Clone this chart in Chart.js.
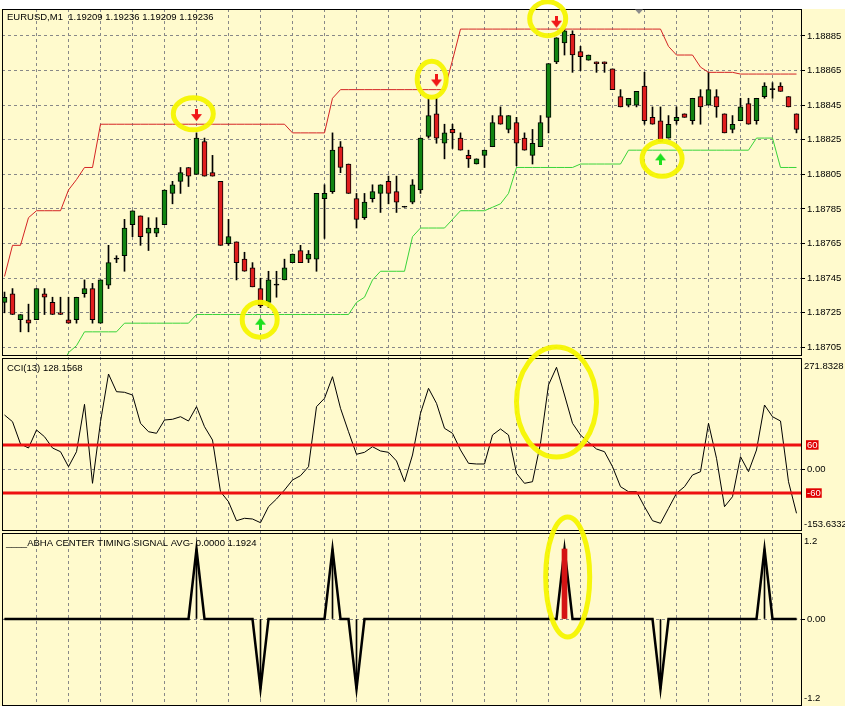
<!DOCTYPE html>
<html>
<head>
<meta charset="utf-8">
<script src="https://cdn.jsdelivr.net/npm/chart.js@4/dist/chart.umd.min.js"></script>
<style>
  html, body { margin: 0; padding: 0; background: #fff; }
  #chart { display: block; }
</style>
</head>
<body>
<canvas id="chart" width="845" height="706"></canvas>
<script>
// EURUSD M1 candles, 100 bars (oldest first)
const openPrices = [
  1.18731, 1.18736, 1.18721, 1.18721, 1.18721, 1.18736, 1.18731, 1.18725, 1.18721, 1.18721,
  1.18736, 1.18739, 1.18719, 1.18741, 1.18756, 1.18758, 1.18776, 1.18781, 1.18771, 1.18771,
  1.18776, 1.18794, 1.18801, 1.18809, 1.18805, 1.18824, 1.18806, 1.18801, 1.18765, 1.18766,
  1.18756, 1.18751, 1.18739, 1.18731, 1.18741, 1.18744, 1.18754, 1.18761, 1.18756, 1.18756,
  1.18791, 1.18795, 1.18821, 1.18811, 1.18791, 1.18780, 1.18791, 1.18794, 1.18801, 1.18795,
  1.18786, 1.18789, 1.18796, 1.18827, 1.18840, 1.18823, 1.18831, 1.18826, 1.18816, 1.18811,
  1.18816, 1.18821, 1.18839, 1.18831, 1.18835, 1.18826, 1.18816, 1.18821, 1.18838, 1.18870,
  1.18881, 1.18886, 1.18876, 1.18871, 1.18870, 1.18870, 1.18866, 1.18850, 1.18845, 1.18845,
  1.18856, 1.18838, 1.18836, 1.18826, 1.18836, 1.18840, 1.18836, 1.18850, 1.18845, 1.18850,
  1.18840, 1.18831, 1.18836, 1.18846, 1.18836, 1.18850, 1.18854, 1.18856, 1.18850, 1.18840
];
const highPrices = [
  1.18737, 1.18739, 1.18724, 1.18730, 1.18739, 1.18739, 1.18734, 1.18734, 1.18734, 1.18734,
  1.18744, 1.18742, 1.18744, 1.18764, 1.18758, 1.18779, 1.18784, 1.18781, 1.18780, 1.18780,
  1.18796, 1.18801, 1.18809, 1.18809, 1.18829, 1.18826, 1.18816, 1.18801, 1.18779, 1.18766,
  1.18760, 1.18754, 1.18745, 1.18749, 1.18749, 1.18756, 1.18759, 1.18764, 1.18761, 1.18794,
  1.18799, 1.18829, 1.18824, 1.18811, 1.18794, 1.18794, 1.18799, 1.18799, 1.18804, 1.18804,
  1.18786, 1.18802, 1.18826, 1.18849, 1.18849, 1.18834, 1.18834, 1.18829, 1.18819, 1.18814,
  1.18819, 1.18839, 1.18844, 1.18839, 1.18838, 1.18829, 1.18831, 1.18839, 1.18869, 1.18884,
  1.18889, 1.18888, 1.18879, 1.18874, 1.18870, 1.18870, 1.18866, 1.18854, 1.18849, 1.18853,
  1.18864, 1.18844, 1.18844, 1.18839, 1.18844, 1.18840, 1.18849, 1.18854, 1.18864, 1.18854,
  1.18840, 1.18839, 1.18849, 1.18849, 1.18849, 1.18858, 1.18858, 1.18858, 1.18850, 1.18840
];
const lowPrices = [
  1.18725, 1.18724, 1.18714, 1.18714, 1.18721, 1.18724, 1.18724, 1.18724, 1.18719, 1.18719,
  1.18734, 1.18719, 1.18719, 1.18739, 1.18754, 1.18749, 1.18769, 1.18764, 1.18761, 1.18769,
  1.18776, 1.18788, 1.18794, 1.18798, 1.18805, 1.18804, 1.18804, 1.18764, 1.18764, 1.18744,
  1.18749, 1.18740, 1.18728, 1.18728, 1.18734, 1.18744, 1.18754, 1.18754, 1.18754, 1.18749,
  1.18768, 1.18794, 1.18806, 1.18794, 1.18774, 1.18779, 1.18789, 1.18783, 1.18788, 1.18783,
  1.18786, 1.18788, 1.18794, 1.18826, 1.18823, 1.18814, 1.18820, 1.18819, 1.18809, 1.18811,
  1.18809, 1.18821, 1.18834, 1.18829, 1.18810, 1.18819, 1.18811, 1.18821, 1.18829, 1.18869,
  1.18874, 1.18864, 1.18865, 1.18871, 1.18864, 1.18864, 1.18854, 1.18844, 1.18844, 1.18844,
  1.18834, 1.18834, 1.18824, 1.18826, 1.18834, 1.18838, 1.18834, 1.18834, 1.18845, 1.18838,
  1.18829, 1.18829, 1.18836, 1.18834, 1.18834, 1.18849, 1.18849, 1.18853, 1.18844, 1.18829
];
const closePrices = [
  1.18734, 1.18724, 1.18724, 1.18719, 1.18739, 1.18734, 1.18724, 1.18724, 1.18719, 1.18734,
  1.18739, 1.18721, 1.18744, 1.18754, 1.18756, 1.18774, 1.18784, 1.18769, 1.18774, 1.18774,
  1.18796, 1.18799, 1.18806, 1.18804, 1.18826, 1.18804, 1.18804, 1.18764, 1.18769, 1.18754,
  1.18749, 1.18740, 1.18729, 1.18744, 1.18741, 1.18751, 1.18759, 1.18754, 1.18759, 1.18794,
  1.18794, 1.18819, 1.18809, 1.18794, 1.18779, 1.18789, 1.18795, 1.18799, 1.18794, 1.18789,
  1.18786, 1.18799, 1.18826, 1.18839, 1.18826, 1.18829, 1.18829, 1.18819, 1.18814, 1.18814,
  1.18819, 1.18835, 1.18834, 1.18839, 1.18823, 1.18819, 1.18823, 1.18835, 1.18869, 1.18884,
  1.18888, 1.18874, 1.18873, 1.18874, 1.18869, 1.18869, 1.18854, 1.18844, 1.18849, 1.18853,
  1.18836, 1.18834, 1.18824, 1.18834, 1.18838, 1.18838, 1.18849, 1.18844, 1.18854, 1.18844,
  1.18829, 1.18834, 1.18844, 1.18834, 1.18849, 1.18856, 1.18854, 1.18853, 1.18844, 1.18831
];
// channel lines
const upperBand = [
  1.18746, 1.18764, 1.18764, 1.18780, 1.18784, 1.18784, 1.18784, 1.18784, 1.18796, 1.18802,
  1.18809, 1.18809, 1.18834, 1.18834, 1.18834, 1.18834, 1.18834, 1.18834, 1.18834, 1.18834,
  1.18834, 1.18834, 1.18834, 1.18834, 1.18834, 1.18834, 1.18834, 1.18834, 1.18834, 1.18834,
  1.18834, 1.18834, 1.18834, 1.18834, 1.18834, 1.18834, 1.18829, 1.18829, 1.18829, 1.18829,
  1.18829, 1.18849, 1.18854, 1.18854, 1.18854, 1.18854, 1.18854, 1.18854, 1.18854, 1.18854,
  1.18854, 1.18854, 1.18854, 1.18854, 1.18854, 1.18854, 1.18871, 1.18889, 1.18889, 1.18889,
  1.18889, 1.18889, 1.18889, 1.18889, 1.18889, 1.18889, 1.18889, 1.18889, 1.18889, 1.18889,
  1.18889, 1.18889, 1.18889, 1.18889, 1.18889, 1.18889, 1.18889, 1.18889, 1.18889, 1.18889,
  1.18889, 1.18889, 1.18889, 1.18879, 1.18874, 1.18874, 1.18874, 1.18867, 1.18864, 1.18864,
  1.18864, 1.18864, 1.18863, 1.18863, 1.18863, 1.18863, 1.18863, 1.18863, 1.18863, 1.18863
];
const lowerBand = [
  null, null, null, null, null, null, null, 1.18691, 1.18702, 1.18706,
  1.18714, 1.18714, 1.18714, 1.18714, 1.18714, 1.18719, 1.18719, 1.18719, 1.18719, 1.18719,
  1.18719, 1.18719, 1.18719, 1.18719, 1.18724, 1.18724, 1.18724, 1.18724, 1.18724, 1.18724,
  1.18724, 1.18724, 1.18724, 1.18724, 1.18724, 1.18724, 1.18724, 1.18724, 1.18724, 1.18724,
  1.18724, 1.18724, 1.18724, 1.18724, 1.18731, 1.18734, 1.18744, 1.18749, 1.18749, 1.18749,
  1.18749, 1.18769, 1.18774, 1.18774, 1.18774, 1.18774, 1.18779, 1.18784, 1.18784, 1.18784,
  1.18784, 1.18786, 1.18788, 1.18794, 1.18809, 1.18809, 1.18809, 1.18809, 1.18809, 1.18809,
  1.18809, 1.18809, 1.18811, 1.18811, 1.18811, 1.18811, 1.18811, 1.18811, 1.18819, 1.18819,
  1.18819, 1.18819, 1.18819, 1.18819, 1.18819, 1.18819, 1.18819, 1.18819, 1.18819, 1.18819,
  1.18819, 1.18819, 1.18819, 1.18819, 1.18826, 1.18826, 1.18826, 1.18809, 1.18809, 1.18809
];
const sellArrowBars = [24, 54, 69];
const sellArrowPrices = [1.18839, 1.18859, 1.18893];
const buyArrowBars = [32, 82];
const buyArrowPrices = [1.18719, 1.18814];
const priceTicks = [1.18705, 1.18725, 1.18745, 1.18765, 1.18785, 1.18805, 1.18825, 1.18845, 1.18865, 1.18885];

// CCI(13)
const cciValues = [
  134.7, 118.0, 62.3, 52.4, 97.3, 80.5, 52.4, 43.1, 5.7, 43.1,
  161.3, -35.7, 118.0, 236.9, 192.8, 191.3, 184.5, 114.0, 93.0, 89.0,
  122.2, 124.0, 130.4, 119.7, 155.4, 105.5, 72.3, -56.6, -81.5, -128.9,
  -122.9, -124.7, -133.9, -94.0, -74.8, -52.4, -27.4, -16.7, 5.7, 155.4,
  176.3, 230.2, 151.4, 93.0, 36.7, 41.6, 55.6, 44.9, 41.6, 20.0,
  -31.7, 34.9, 138.9, 201.2, 163.8, 101.5, 89.0, 47.4, 14.2, 12.5,
  12.5, 84.8, 99.8, 84.8, -10.7, -35.7, -31.7, 64.1, 209.5, 253.6,
  184.5, 114.0, 84.8, 66.6, 49.9, 43.1, 5.7, -44.1, -56.6, -56.6,
  -94.0, -128.9, -135.4, -98.0, -60.6, -44.1, -15.0, -6.7, 114.0, 26.7,
  -94.0, -69.1, 30.7, -6.7, 47.4, 159.6, 130.4, 119.7, -31.7, -110.5
];
const cciLevels = [60, -60];
const cciTicks = [60, 0, -60];
const cciMax = 271.8328;
const cciMin = -153.6332;

// ABHA center timing signal
const signalValues = [
  0, 0, 0, 0, 0, 0, 0, 0, 0, 0,
  0, 0, 0, 0, 0, 0, 0, 0, 0, 0,
  0, 0, 0, 0, 1, 0, 0, 0, 0, 0,
  0, 0, -1, 0, 0, 0, 0, 0, 0, 0,
  0, 1, 0, 0, -1, 0, 0, 0, 0, 0,
  0, 0, 0, 0, 0, 0, 0, 0, 0, 0,
  0, 0, 0, 0, 0, 0, 0, 0, 0, 0,
  1, 0, 0, 0, 0, 0, 0, 0, 0, 0,
  0, 0, -1, 0, 0, 0, 0, 0, 0, 0,
  0, 0, 0, 0, 0, 1, 0, 0, 0, 0
];
const alertBars = [70];
const alertValues = [1];
const signalMax = 1.2;
const signalMin = -1.2;

const gridBars = [4, 8, 12, 16, 20, 24, 28, 32, 36, 40, 44, 48, 52, 56, 60, 64, 68, 72, 76, 80, 84, 88, 92, 96];

// hand-drawn yellow rings: [axis, bar, value, rx, ry]
const markerRings = [
  ['yPrice', 23.6, 1.18840, 20, 16],
  ['yPrice', 53.4, 1.18860, 14.5, 18],
  ['yPrice', 67.9, 1.18895, 18, 17],
  ['yPrice', 31.9, 1.18721, 17.5, 17.5],
  ['yPrice', 82.2, 1.18814, 20, 17.5],
  ['yCci', 69.0, 167, 40, 55],
  ['ySignal', 70.4, 0.6, 22, 60]
];

const paneColor = '#fffacd';
const gridColor = '#888888';
const upColor = '#128412';
const downColor = '#e01e1e';
const fontFamily = "'Liberation Sans', Arial, sans-serif";
const tickFont = { family: fontFamily, size: 9.5, lineHeight: 1 };

// pane heights in px (price, cci, signal); x range puts bar centres on half pixels
const paneHeights = [347, 177, 173];
const paneTop = 9;
const xMin = -0.3125;
const xMax = openPrices.length - 0.3125;

const bars = openPrices.map((_, i) => i);

function makeArrow(color, down) {
  const c = document.createElement('canvas');
  c.width = 11;
  c.height = 13;
  const g = c.getContext('2d');
  g.fillStyle = color;
  g.beginPath();
  if (down) {
    g.fillRect(4, 0, 3, 7);
    g.moveTo(0, 5); g.lineTo(11, 5); g.lineTo(5.5, 12);
  } else {
    g.fillRect(4, 6, 3, 7);
    g.moveTo(0, 8); g.lineTo(11, 8); g.lineTo(5.5, 1);
  }
  g.closePath();
  g.fill();
  return c;
}

const bodyColors = bars.map(i => closePrices[i] > openPrices[i] ? upColor : (closePrices[i] < openPrices[i] ? downColor : '#000'));

const mt4Chrome = {
  id: 'mt4Chrome',
  beforeDraw(chart) {
    const { ctx, width, height, chartArea } = chart;
    ctx.save();
    ctx.fillStyle = '#ffffff';
    ctx.fillRect(0, 0, width, height);
    ctx.fillStyle = paneColor;
    ctx.fillRect(0, chartArea.top, width, height - chartArea.top);
    ctx.restore();
  },
  afterDraw(chart) {
    const { ctx, chartArea, scales } = chart;
    ctx.save();

    // pane frames
    ctx.strokeStyle = '#000';
    ctx.lineWidth = 1;
    const frames = [[scales.yPrice, 0, 0], [scales.yCci, 2, 2], [scales.ySignal, 0, 0]];
    const frameTops = [];
    for (const [s, gt, gb] of frames) {
      const top = s.top + gt + 0.5;
      frameTops.push(top);
      ctx.strokeRect(chartArea.left + 0.5, top, chartArea.right - chartArea.left - 1, s.bottom - s.top - gt - gb - 1);
    }

    // pane titles
    ctx.fillStyle = '#000';
    ctx.font = '9.5px ' + fontFamily;
    ctx.textBaseline = 'middle';
    ctx.textAlign = 'left';
    ctx.fillText('EURUSD,M1  1.19209 1.19236 1.19209 1.19236', 7, frameTops[0] + 8);
    ctx.fillText('CCI(13) 128.1568', 7, frameTops[1] + 10);
    ctx.fillText('____ABHA CENTER TIMING SIGNAL AVG- 0.0000 1.1924', 6, frameTops[2] + 10);

    // min / max labels of the indicator panes
    const lx = chartArea.right + 2;
    ctx.fillText(cciMax.toFixed(4), lx, scales.yCci.getPixelForValue(cciMax) + 6);
    ctx.fillText(cciMin.toFixed(4), lx, scales.yCci.getPixelForValue(cciMin) - 6);
    ctx.fillText(String(signalMax), lx, scales.ySignal.getPixelForValue(signalMax) + 6);
    ctx.fillText(String(signalMin), lx, scales.ySignal.getPixelForValue(signalMin) - 5);

    // chart shift marker
    ctx.fillStyle = '#8c8c8c';
    ctx.beginPath();
    ctx.moveTo(635, chartArea.top + 0.5);
    ctx.lineTo(643, chartArea.top + 0.5);
    ctx.lineTo(639, chartArea.top + 5);
    ctx.closePath();
    ctx.fill();

    // yellow rings
    ctx.strokeStyle = 'rgba(246, 246, 0, 0.95)';
    ctx.lineWidth = 5;
    for (const [axis, bar, value, rx, ry] of markerRings) {
      const cx = scales.x.getPixelForValue(bar);
      const cy = scales[axis].getPixelForValue(value);
      ctx.beginPath();
      ctx.ellipse(cx, cy, rx, ry, 0, 0, Math.PI * 2);
      ctx.stroke();
    }
    ctx.restore();
  }
};

function paneAxis(weight, stackWeight, min, max, ticks, extraTicks, extraGrid) {
  return {
    type: 'linear',
    position: 'right',
    stack: 'panes',
    weight: weight,
    stackWeight: stackWeight,
    min: min,
    max: max,
    afterBuildTicks(s) { s.ticks = ticks.map(v => ({ value: v })); },
    afterFit(s) { s.width = 43; s.paddingTop = 0; s.paddingBottom = 0; },
    grid: Object.assign({ color: gridColor, lineWidth: 1, tickColor: '#000', tickLength: 3, tickWidth: 1 }, extraGrid),
    border: { display: false, dash: [3, 3] },
    ticks: Object.assign({ font: tickFont, color: '#000', padding: 2 }, extraTicks)
  };
}

// px per unit: price 173000/unit with 1.18885 at 27px under the pane top; cci 0.401px/unit with 0 at 113px; signal 70px/unit with 0 at 86px
const priceTop = 1.18885 + 27 / 173000;
const priceBottom = priceTop - paneHeights[0] / 173000;
const cciTop = 113 / 0.401;
const cciBottom = cciTop - paneHeights[1] / 0.401;
const signalTop = 86 / 70;
const signalBottom = signalTop - paneHeights[2] / 70;

const isLevel = c => c.tick && c.tick.value !== 0;

new Chart(document.getElementById('chart'), {
  type: 'bar',
  data: {
    datasets: [
      {
        type: 'line', label: 'sell', yAxisID: 'yPrice', order: 0, showLine: false,
        data: sellArrowBars.map((b, k) => ({ x: b, y: sellArrowPrices[k] })),
        pointStyle: makeArrow('#f01818', true), pointRadius: 6
      },
      {
        type: 'line', label: 'buy', yAxisID: 'yPrice', order: 0, showLine: false,
        data: buyArrowBars.map((b, k) => ({ x: b, y: buyArrowPrices[k] })),
        pointStyle: makeArrow('#1ee01e', false), pointRadius: 6
      },
      {
        type: 'line', label: 'upper', yAxisID: 'yPrice', order: 1,
        data: bars.map(i => ({ x: i, y: upperBand[i] })),
        borderColor: '#d42424', borderWidth: 1, pointRadius: 0, tension: 0
      },
      {
        type: 'line', label: 'lower', yAxisID: 'yPrice', order: 1,
        data: bars.map(i => ({ x: i, y: lowerBand[i] })),
        borderColor: '#3ad43a', borderWidth: 1, pointRadius: 0, tension: 0
      },
      {
        type: 'bar', label: 'body', yAxisID: 'yPrice', order: 2,
        data: bars.map(i => ({ x: i, y: [openPrices[i], closePrices[i]] })),
        backgroundColor: bodyColors, borderColor: '#000', borderWidth: 1, borderSkipped: false,
        barThickness: 5, grouped: false, minBarLength: 1
      },
      {
        type: 'bar', label: 'wick', yAxisID: 'yPrice', order: 3,
        data: bars.map(i => ({ x: i, y: [lowPrices[i], highPrices[i]] })),
        backgroundColor: '#000', borderWidth: 0, barThickness: 1, grouped: false, minBarLength: 1
      },
      ...cciLevels.map(level => ({
        type: 'line', label: 'level ' + level, yAxisID: 'yCci', order: 0,
        data: [{ x: xMin, y: level }, { x: xMax, y: level }],
        borderColor: '#ee1010', borderWidth: 3, pointRadius: 0
      })),
      {
        type: 'line', label: 'CCI', yAxisID: 'yCci', order: 1,
        data: bars.map(i => ({ x: i, y: cciValues[i] })),
        borderColor: '#000', borderWidth: 1, pointRadius: 0, tension: 0
      },
      {
        type: 'bar', label: 'alert', yAxisID: 'ySignal', order: 0,
        data: alertBars.map((b, k) => ({ x: b, y: alertValues[k] })),
        backgroundColor: '#d41414', barThickness: 5, grouped: false
      },
      {
        type: 'line', label: 'signal', yAxisID: 'ySignal', order: 1,
        data: bars.map(i => ({ x: i, y: signalValues[i] })),
        borderColor: '#000', borderWidth: 2.5, pointRadius: 0, tension: 0
      },
      {
        type: 'bar', label: 'signal hist', yAxisID: 'ySignal', order: 2,
        data: bars.map(i => ({ x: i, y: signalValues[i] })),
        backgroundColor: '#000', barThickness: 1, grouped: false
      }
    ]
  },
  options: {
    responsive: false,
    animation: false,
    devicePixelRatio: 1,
    layout: { autoPadding: false, padding: { top: paneTop, left: 2, right: 0, bottom: 0 } },
    plugins: { legend: { display: false }, tooltip: { enabled: false } },
    events: [],
    scales: {
      x: {
        type: 'linear',
        min: xMin,
        max: xMax,
        offset: false,
        afterBuildTicks(s) { s.ticks = gridBars.map(v => ({ value: v })); },
        afterFit(s) { s.height = 0; s.paddingLeft = 0; s.paddingRight = 0; },
        ticks: { display: false },
        grid: { color: gridColor, lineWidth: 1, drawTicks: false, offset: false },
        border: { display: false, dash: [3, 3] }
      },
      yPrice: paneAxis(1, paneHeights[0], priceBottom, priceTop, priceTicks,
        { callback: v => v.toFixed(5) }, {}),
      yCci: paneAxis(2, paneHeights[1], cciBottom, cciTop, cciTicks,
        {
          callback: v => v === 0 ? '0.00' : String(v),
          color: c => isLevel(c) ? '#fff' : '#000',
          showLabelBackdrop: c => isLevel(c),
          backdropColor: '#e00000',
          backdropPadding: { top: 0, bottom: 0, left: 1, right: 1 }
        },
        { tickColor: c => isLevel(c) ? 'rgba(0,0,0,0)' : '#000' }),
      ySignal: paneAxis(3, paneHeights[2], signalBottom, signalTop, [0],
        { callback: () => '0.00' }, {})
    }
  },
  plugins: [mt4Chrome]
});
</script>
</body>
</html>
